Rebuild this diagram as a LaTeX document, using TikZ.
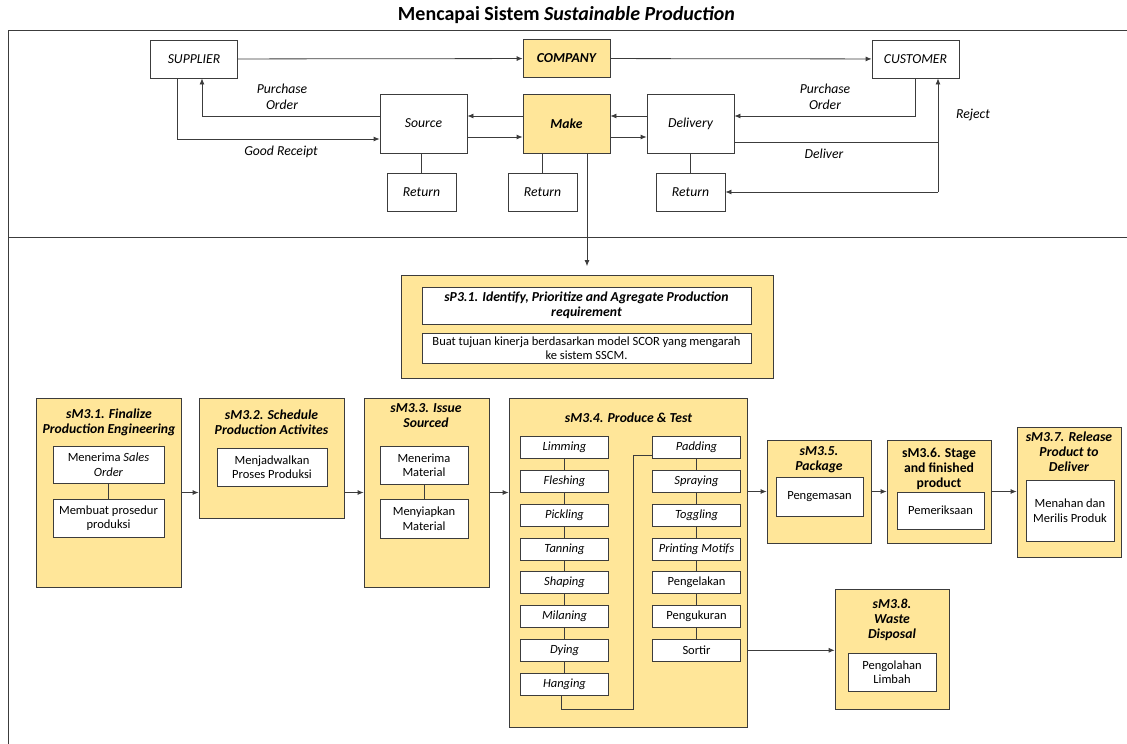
\documentclass[tikz,border=0pt]{standalone}
\usepackage{fontspec}
\setmainfont{Carlito}
\usetikzlibrary{positioning,arrows.meta}
\definecolor{boxyellow}{RGB}{255,230,153}
\definecolor{linegray}{RGB}{60,60,60}

\begin{document}
\begin{tikzpicture}[x=1pt,y=-1pt,
        entity/.style={
            rectangle, draw=linegray, line width=0.8pt, fill=white, inner sep=0pt,
            minimum width=87pt, minimum height=38pt, font=\fontsize{13.7}{15.5}\selectfont\itshape
        },
        core/.style={
            entity, fill=boxyellow, font=\fontsize{13.7}{15.5}\selectfont\bfseries\itshape
        },
        retbox/.style={entity, minimum width=69pt},
        tag/.style={font=\fontsize{13.7}{15.5}\selectfont\itshape, align=center},
        frame/.style={
            rectangle, draw=linegray, line width=0.8pt, fill=boxyellow, inner sep=0pt
        },
        heading/.style={font=\fontsize{13.7}{15}\selectfont\bfseries\itshape, align=center, inner sep=0pt},
        task/.style={
            rectangle, draw=linegray, line width=0.8pt, fill=white, inner sep=0pt,
            align=center, minimum height=38pt, font=\fontsize{12.5}{14.5}\selectfont
        },
        activity/.style={task, minimum width=88pt, minimum height=22pt, font=\fontsize{12.5}{14}\selectfont\itshape},
        flow/.style={draw=linegray, line width=0.8pt, -{Latex[length=6pt,width=5pt]}},
        link/.style={draw=linegray, line width=0.8pt},
    ]
    \useasboundingbox (0,0) rectangle (1127,744);

    \node (title) at (566.5,15) {\fontsize{20}{22}\selectfont\bfseries Mencapai Sistem \textit{Sustainable Production}};
    \draw[link] (1127,30) -- (8,30) -- (8,744);
    \draw[link] (8,237) -- (1127,237);

    % supply chain level
    \node (supplier) [entity] at (194,59) {SUPPLIER};
    \node (company) [core] at (566.5,58.5) {COMPANY};
    \node (customer) [entity] at (915.5,59) {CUSTOMER};
    \node (source) [entity, minimum height=59pt] at (423.5,123.5) {Source};
    \node (make) [core, minimum height=59pt] at (566.5,123.5) {Make};
    \node (delivery) [entity, minimum height=59pt] at (690.5,123.5) {Delivery};
    \node (retSource) [retbox] at (421.5,192) {Return};
    \node (retMake) [retbox] at (542.5,192) {Return};
    \node (retDelivery) [retbox] at (690.5,192) {Return};

    \path (supplier) edge[flow] (company);
    \path (company) edge[flow] (customer);
    \draw[flow] ([yshift=7.5pt]source.west) -| ([xshift=8pt]supplier.south);
    \node [tag] at (282,97) {Purchase\\Order};
    \draw[flow] ([xshift=-17pt]supplier.south) |- ([yshift=-15.5pt]source.west);
    \node [tag] at (281,152) {Good Receipt};
    \draw[flow] ([yshift=7.5pt]make.west) -- ([yshift=7.5pt]source.east);
    \draw[flow] ([yshift=-13.5pt]source.east) -- ([yshift=-13.5pt]make.west);
    \draw[flow] ([yshift=7.5pt]delivery.west) -- ([yshift=7.5pt]make.east);
    \draw[flow] ([yshift=-13.5pt]make.east) -- ([yshift=-13.5pt]delivery.west);
    \draw[flow] (customer.south) |- ([yshift=7.5pt]delivery.east);
    \node [tag] at (825,97) {Purchase\\Order};
    \coordinate (rejectTurn) at (938,192);
    \draw[link] ([yshift=-18.5pt]delivery.east) -| (rejectTurn);
    \node [tag] at (824,154) {Deliver};
    \draw[flow] (rejectTurn) -- (rejectTurn |- customer.south);
    \node [tag] at (973,115) {Reject};
    \draw[flow] (rejectTurn) -- (retDelivery.east);
    \draw[link] (source.south -| retSource.north) -- (retSource.north);
    \draw[link] (make.south -| retMake.north) -- (retMake.north);
    \draw[link] (delivery.south) -- (retDelivery.north);

    % planning
    \node (sp) [frame, minimum width=372pt, minimum height=103pt] at (587,327) {};
    \node (spTitle) [task, minimum width=329pt, minimum height=37pt, font=\fontsize{13.7}{15}\selectfont\bfseries\itshape] at (586.5,305.5) {sP3.1. Identify, Prioritize and Agregate Production\\requirement};
    \node (spGoal) [task, minimum width=329pt, minimum height=30pt, font=\fontsize{12.5}{13.5}\selectfont] at (586.5,348) {Buat tujuan kinerja berdasarkan model SCOR yang mengarah\\ke sistem SSCM.};
    \draw[flow, shorten >=9pt] (make.south -| sp.north) -- (sp.north);

    % make process
    \node (m31) [frame, minimum width=145pt, minimum height=189pt] at (109,492.5) {};
    \node [heading] at (109,422.5) {sM3.1. Finalize\\Production Engineering};
    \node (salesOrder) [task, minimum width=111pt, minimum height=37pt] at (108.5,464.5) {Menerima \textit{Sales}\\\textit{Order}};
    \node (procedure) [task, minimum width=111pt] at (108.5,518) {Membuat prosedur\\produksi};
    \draw[link] (salesOrder) -- (procedure);

    \node (m32) [frame, minimum width=145pt, minimum height=120pt] at (271.5,458) {};
    \node [heading] at (271.5,422.5) {sM3.2. Schedule\\Production Activites};
    \node (schedule) [task, minimum width=110pt] at (272,467) {Menjadwalkan\\Proses Produksi};

    \node (m33) [frame, minimum width=125pt, minimum height=189pt] at (426.5,492.5) {};
    \node [heading] at (426,415.5) {sM3.3. Issue\\Sourced};
    \node (receive) [task, minimum width=88pt] at (424,465) {Menerima\\Material};
    \node (prepare) [task, minimum width=88pt, minimum height=39pt] at (424,518.5) {Menyiapkan\\Material};
    \draw[link] (receive) -- (prepare);

    \node (m34) [frame, minimum width=238pt, minimum height=329pt] at (628,562.5) {};
    \node [heading] at (628.5,418) {sM3.4. Produce \& Test};
    \node (limming) [activity] at (564.5,447.5) {Limming};
    \node (fleshing) [activity, below=11pt of limming] {Fleshing};
    \node (pickling) [activity, below=11pt of fleshing] {Pickling};
    \node (tanning) [activity, below=11pt of pickling] {Tanning};
    \node (shaping) [activity, below=11pt of tanning] {Shaping};
    \node (milaning) [activity, below=11pt of shaping] {Milaning};
    \node (dying) [activity, below=11pt of milaning] {Dying};
    \node (hanging) [activity, below=11pt of dying] {Hanging};
    \node (padding) [activity] at (696.5,447.5) {Padding};
    \node (spraying) [activity, below=11pt of padding] {Spraying};
    \node (toggling) [activity, below=11pt of spraying] {Toggling};
    \node (printing) [activity, below=11pt of toggling] {Printing Motifs};
    \node (pengelakan) [activity, below=11pt of printing, font=\fontsize{12.5}{14}\selectfont] {Pengelakan};
    \node (pengukuran) [activity, below=11pt of pengelakan, font=\fontsize{12.5}{14}\selectfont] {Pengukuran};
    \node (sortir) [activity, below=11pt of pengukuran, font=\fontsize{12.5}{14}\selectfont] {Sortir};
    \foreach \a/\b in {limming/fleshing, fleshing/pickling, pickling/tanning, tanning/shaping,
        shaping/milaning, milaning/dying, dying/hanging, padding/spraying, spraying/toggling,
        toggling/printing, printing/pengelakan, pengelakan/pengukuran, pengukuran/sortir}
        \draw[link] (\a) -- (\b);
    \coordinate (loopLow) at (633,709);
    \draw[link] ([xshift=-3pt]hanging.south) |- (loopLow) |- ([yshift=-7.5pt]padding.west);

    \node (m35) [frame, minimum width=104pt, minimum height=103pt] at (819,491.5) {};
    \node [heading] at (819,460) {sM3.5.\\Package};
    \node (packing) [task, minimum width=87pt, minimum height=39pt] at (819.5,496.5) {Pengemasan};

    \node (m36) [frame, minimum width=104pt, minimum height=103pt] at (939,491.5) {};
    \node [heading, font=\fontsize{13.7}{15}\selectfont\bfseries] at (939,469) {sM3.6. Stage\\and finished\\product};
    \node (inspect) [task, minimum width=87pt, minimum height=37pt] at (940.5,510.5) {Pemeriksaan};

    \node (m37) [frame, minimum width=104pt, minimum height=130pt] at (1069,492) {};
    \node [heading] at (1069,451.5) {sM3.7. Release\\Product to\\Deliver};
    \node (release) [task, minimum width=88pt, minimum height=61pt] at (1070,510.5) {Menahan dan\\Merilis Produk};

    \node (m38) [frame, minimum width=114pt, minimum height=120pt] at (892,649) {};
    \node [heading] at (892,620) {sM3.8.\\Waste\\Disposal};
    \node (waste) [task, minimum width=88pt] at (892,672) {Pengolahan\\Limbah};

    \draw[flow] (m31.east) -- (m31.east -| m32.west);
    \draw[flow] (m33.west -| m32.east) -- (m33.west);
    \draw[flow] (m33.east) -- (m33.east -| m34.west);
    \draw[flow] (m35.west -| m34.east) -- (m35.west);
    \draw[flow] (m35.east) -- (m36.west);
    \draw[flow] (m36.east) -- (m36.east -| m37.west);
    \draw[flow] (m34.east |- sortir) -- (sortir -| m38.west);
\end{tikzpicture}
\end{document}
